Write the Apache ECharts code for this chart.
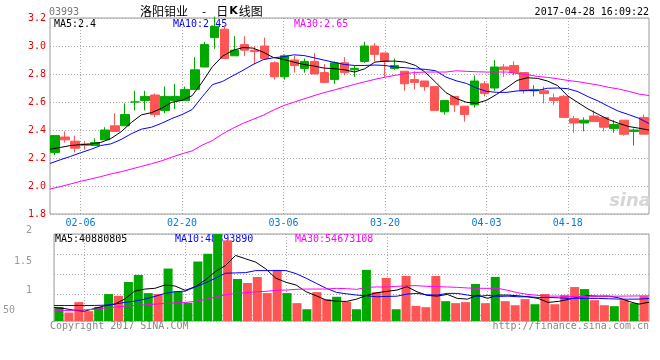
<!DOCTYPE html>
<html>
<head>
<meta charset="utf-8">
<script src="https://cdn.jsdelivr.net/npm/echarts@6/dist/echarts.min.js"></script>
<style>
html,body{margin:0;padding:0;background:#fff;}
#chart{width:660px;height:360px;}
</style>
</head>
<body>
<div id="chart"></div>
<script>
// ---- data ----
const dates = ['02-01','02-02','02-03','02-06','02-07','02-08','02-09','02-10','02-13','02-14','02-15','02-16','02-17','02-20','02-21','02-22','02-23','02-24','02-27','02-28','03-01','03-02','03-03','03-06','03-07','03-08','03-09','03-10','03-13','03-14','03-15','03-16','03-17','03-20','03-21','03-22','03-23','03-24','03-27','03-28','03-29','03-30','03-31','04-03','04-05','04-06','04-07','04-10','04-11','04-12','04-13','04-18','04-19','04-20','04-21','04-24','04-25','04-26','04-27','04-28'];
const dateTicks = ['02-06','02-20','03-06','03-20','04-03','04-18'];

const open  = [2.24,2.35,2.32,2.30,2.29,2.33,2.43,2.43,2.60,2.61,2.65,2.54,2.61,2.61,2.69,2.85,3.06,3.12,2.93,3.01,2.97,3.00,2.88,2.78,2.90,2.84,2.89,2.81,2.76,2.88,2.83,2.89,3.00,2.95,2.84,2.82,2.76,2.75,2.71,2.53,2.64,2.57,2.58,2.73,2.70,2.85,2.86,2.81,2.68,2.68,2.63,2.64,2.48,2.45,2.50,2.49,2.41,2.47,2.39,2.49];
const close = [2.36,2.33,2.27,2.29,2.31,2.40,2.39,2.51,2.60,2.64,2.51,2.64,2.64,2.69,2.83,3.01,3.14,2.91,2.97,2.97,2.96,2.91,2.78,2.93,2.86,2.89,2.80,2.74,2.88,2.81,2.84,3.00,2.94,2.89,2.86,2.73,2.74,2.71,2.54,2.61,2.58,2.51,2.75,2.66,2.85,2.83,2.81,2.68,2.69,2.66,2.61,2.49,2.45,2.47,2.46,2.42,2.44,2.37,2.40,2.37];
const low   = [2.22,2.31,2.24,2.26,2.29,2.33,2.39,2.43,2.54,2.54,2.49,2.52,2.55,2.61,2.69,2.85,2.98,2.91,2.93,2.93,2.87,2.91,2.76,2.76,2.81,2.81,2.80,2.74,2.73,2.79,2.78,2.88,2.89,2.78,2.83,2.68,2.69,2.68,2.54,2.51,2.53,2.46,2.56,2.64,2.68,2.78,2.79,2.66,2.64,2.59,2.58,2.49,2.38,2.39,2.46,2.39,2.38,2.36,2.29,2.37];
const high  = [2.36,2.39,2.36,2.32,2.34,2.42,2.52,2.59,2.68,2.68,2.66,2.71,2.73,2.71,2.92,3.03,3.21,3.15,3.07,3.07,3.00,3.06,2.89,2.94,2.93,2.91,2.95,2.87,2.89,2.92,2.86,3.03,3.02,2.95,2.91,2.82,2.82,2.75,2.71,2.61,2.64,2.57,2.79,2.75,2.90,2.87,2.89,2.81,2.72,2.71,2.66,2.65,2.50,2.49,2.54,2.49,2.47,2.47,2.41,2.51];

const ma5  = [2.263,2.275,2.289,2.295,2.300,2.311,2.339,2.387,2.453,2.508,2.524,2.555,2.598,2.612,2.645,2.743,2.852,2.928,2.968,
              2.989,2.985,2.956,2.918,2.904,2.885,2.868,2.857,2.842,2.838,2.830,2.814,2.837,2.885,2.892,2.892,2.885,2.861,2.810,2.740,
              2.667,2.626,2.598,2.591,2.612,2.655,2.702,2.754,2.773,2.769,2.750,2.717,2.643,2.596,2.550,2.512,2.475,2.448,2.425,2.413,2.399];
const ma10 = [2.161,2.187,2.211,2.237,2.261,2.289,2.301,2.332,2.373,2.406,2.420,2.448,2.482,2.510,2.546,2.638,2.724,2.747,2.787,
              2.826,2.868,2.902,2.916,2.923,2.937,2.932,2.916,2.899,2.883,2.868,2.861,2.861,2.864,2.861,2.849,2.845,2.837,2.833,2.823,
              2.778,2.752,2.733,2.700,2.676,2.669,2.669,2.679,2.683,2.683,2.698,2.700,2.695,2.674,2.638,2.607,2.569,2.534,2.510,2.484,2.446];
const ma30 = [1.979,1.995,2.014,2.033,2.050,2.067,2.086,2.102,2.121,2.140,2.159,2.180,2.206,2.230,2.251,2.292,2.325,2.372,2.412,
              2.447,2.476,2.505,2.542,2.574,2.598,2.622,2.645,2.667,2.686,2.706,2.726,2.744,2.762,2.777,2.790,2.803,2.811,2.814,2.814,
              2.814,2.823,2.819,2.816,2.814,2.814,2.814,2.804,2.795,2.783,2.776,2.766,2.754,2.745,2.733,2.721,2.705,2.693,2.676,2.657,2.646];

// volume, millions of shares
const volume = [30.6,18.4,41.0,21.3,30.6,58.5,54.8,84.8,100.1,60.6,58.5,113.9,64.3,39.4,129.2,146.1,189.0,175.2,91.3,82.6,
                95.7,60.6,111.1,60.6,38.8,25.6,62.8,47.5,52.6,41.6,25.6,111.1,62.8,93.5,25.6,97.9,32.8,30.0,97.9,43.1,
                38.8,41.0,80.4,38.8,95.7,43.1,34.3,47.5,36.5,58.5,36.5,56.3,73.8,69.4,45.3,34.3,32.2,45.3,38.8,54.1];
const vma5  = [29.3,27.1,23.4,21.2,27.1,32.9,36.6,47.5,65.0,69.4,71.0,78.2,76.0,66.6,74.5,89.1,107.3,120.5,142.4,135.1,
               127.9,113.2,92.9,84.1,78.2,63.5,54.8,45.3,43.1,42.5,47.5,55.6,61.3,64.4,67.2,74.5,63.5,55.6,54.1,57.8,
               49.1,47.5,56.3,49.1,56.3,56.3,54.8,52.6,49.1,40.3,42.5,46.9,51.9,54.8,54.1,54.1,50.4,42.5,36.6,40.9];
const vma10 = [33.7,33.7,33.7,33.7,33.7,34.4,36.6,40.3,43.1,47.5,53.4,60.0,63.5,65.0,73.8,82.6,92.9,103.8,104.5,105.1,
               109.5,109.5,109.5,109.5,102.9,92.9,81.9,71.0,62.2,59.1,56.3,54.8,52.6,53.4,53.9,58.5,60.0,56.9,56.3,60.0,
               60.0,56.3,53.4,55.5,53.4,54.0,52.6,52.6,51.2,51.2,50.4,49.1,49.1,49.1,49.1,48.4,47.5,47.5,47.5,48.9];
const vma30 = [21.9,22.8,23.4,24.1,25.6,27.8,30.0,32.2,33.7,35.0,36.6,38.1,39.4,40.3,42.5,46.9,51.9,56.9,60.0,61.3,
               63.5,64.4,66.6,67.2,68.8,69.4,69.4,69.4,71.0,70.2,68.8,73.1,73.9,73.9,75.3,76.7,76.7,75.3,74.6,73.9,
               73.1,71.7,71.0,71.0,71.0,66.6,61.3,57.8,55.6,54.1,54.1,53.4,53.4,52.6,53.5,53.8,54.0,54.2,54.5,54.7];
const volMax = 189;
const volTickLabels = ['2','1.5','1','50'];

// ---- styles ----
const MONO = '"DejaVu Sans Mono", "Liberation Mono", monospace';
const UP = '#00a800', DOWN = '#ff5555';
const GRIDLINE = {color:'#a8a8a8', type:[1,2], width:1};

const candles = dates.map((d,i)=>[open[i], close[i], low[i], high[i]]);
const volBars = volume.map((v,i)=>({value:v, itemStyle:{color: close[i] >= open[i] ? UP : DOWN}}));
const isTick = (i, v) => dateTicks.indexOf(dates[i]) >= 0;

const chart = echarts.init(document.getElementById('chart'), null, {renderer:'canvas'});
const txt = (text, x, y, color, align, font) => ({
  type:'text', z:0, silent:true,
  style:{text, x, y, fill:color, font: font || ('10px ' + MONO), textAlign:align||'left', align:align||'left', textVerticalAlign:'middle', verticalAlign:'middle'}
});

chart.setOption({
  animation:false,
  backgroundColor:'#ffffff',
  grid:[
    {left:50, right:11, top:18, height:196, show:true, borderColor:'#999', borderWidth:1, backgroundColor:'transparent'},
    {left:50, right:11, top:234, height:87, show:true, borderColor:'#999', borderWidth:1, backgroundColor:'transparent'}
  ],
  xAxis:[
    {type:'category', gridIndex:0, data:dates, boundaryGap:true, show:false},
    {type:'category', gridIndex:0, data:dates, boundaryGap:false, position:'bottom',
     axisLine:{show:false}, axisTick:{show:false},
     axisLabel:{show:true, interval:isTick, color:'#0a78d8', fontFamily:MONO, fontSize:10, margin:4},
     splitLine:{show:true, interval:isTick, lineStyle:GRIDLINE}},
    {type:'category', gridIndex:1, data:dates, boundaryGap:true, show:false},
    {type:'category', gridIndex:1, data:dates, boundaryGap:false, position:'bottom',
     axisLine:{show:false}, axisTick:{show:false}, axisLabel:{show:false},
     splitLine:{show:true, interval:isTick, lineStyle:GRIDLINE}}
  ],
  yAxis:[
    {type:'value', gridIndex:0, min:1.8, max:3.2, interval:0.2, position:'left',
     axisLine:{show:false}, axisTick:{show:false},
     axisLabel:{color:'#ee0000', fontFamily:MONO, fontSize:10, margin:4, formatter:v=>v.toFixed(1)},
     splitLine:{show:true, lineStyle:GRIDLINE}},
    {type:'value', gridIndex:1, min:0, max:volMax, show:false, splitLine:{show:false}},
    {type:'value', gridIndex:1, min:0, max:4.3, interval:1, inverse:true, position:'left',
     axisLine:{show:false}, axisTick:{show:false},
     axisLabel:{color:'#999', fontFamily:MONO, fontSize:10, margin:22,
       formatter:v=>{
         const k = Math.round(v);
         if (Math.abs(v-k) > 1e-6 || k > 3) return '';
         return '{t' + k + '|' + volTickLabels[k] + '}';
       },
       rich:{
         t0:{color:'#999', fontFamily:MONO, fontSize:10, padding:[0,0,8,0]},
         t1:{color:'#999', fontFamily:MONO, fontSize:10, padding:[14,0,0,0]},
         t2:{color:'#999', fontFamily:MONO, fontSize:10, padding:[32,0,0,0]},
         t3:{color:'#999', fontFamily:MONO, fontSize:10, padding:[32,17,0,0]}
       }},
     splitLine:{show:true, lineStyle:GRIDLINE}}
  ],
  series:[
    {type:'candlestick', xAxisIndex:0, yAxisIndex:0, data:candles, barWidth:9,
     itemStyle:{color:UP, color0:DOWN, borderColor:UP, borderColor0:DOWN, borderColorDoji:UP, borderWidth:1}},
    {type:'line', xAxisIndex:1, yAxisIndex:0, data:ma5, symbol:'none', lineStyle:{color:'#000', width:1}},
    {type:'line', xAxisIndex:1, yAxisIndex:0, data:ma10, symbol:'none', lineStyle:{color:'#0000ff', width:1}},
    {type:'line', xAxisIndex:1, yAxisIndex:0, data:ma30, symbol:'none', lineStyle:{color:'#ff00ff', width:1}},
    {type:'bar', xAxisIndex:2, yAxisIndex:1, data:volBars, barWidth:9},
    {type:'line', xAxisIndex:3, yAxisIndex:1, data:vma5, symbol:'none', lineStyle:{color:'#000', width:1}},
    {type:'line', xAxisIndex:3, yAxisIndex:1, data:vma10, symbol:'none', lineStyle:{color:'#0000ff', width:1}},
    {type:'line', xAxisIndex:3, yAxisIndex:1, data:vma30, symbol:'none', lineStyle:{color:'#ff00ff', width:1}}
  ],
  graphic:[
    txt('03993', 49, 12, '#777'),
    {type:'text', z:0, silent:true, style:{
      text:'{a|洛阳钼业}{d|-}{a|日}{k|K}{a|线图}', x:140, y:11, textVerticalAlign:'middle', verticalAlign:'middle',
      rich:{
        a:{font:'12px "Noto Sans CJK SC"', fill:'#000', color:'#000'},
        d:{font:'12px "Noto Sans CJK SC"', fill:'#000', color:'#000', padding:[0,10,0,14]},
        k:{font:'bold 11px "DejaVu Sans"', fill:'#000', color:'#000', padding:[0,1,0,1]}
      }}},
    txt('2017-04-28 16:09:22', 649, 12, '#000', 'right'),
    txt('MA5:' + ma5[ma5.length-1].toFixed(1), 54, 24, '#000'),
    txt('MA10:' + ma10[ma10.length-1].toFixed(2), 173, 24, '#0000ff'),
    txt('MA30:' + ma30[ma30.length-1].toFixed(2), 294, 24, '#ff00ff'),
    txt('MA5:40880805', 55, 239, '#000'),
    txt('MA10:48893890', 175, 239, '#0000ff'),
    txt('MA30:54673108', 295, 239, '#ff00ff'),
    txt('Copyright 2017 SINA.COM', 50, 326, '#888'),
    txt('http://finance.sina.com.cn', 649, 326, '#888', 'right'),
    txt('sina', 651, 201, '#d6d6d6', 'right', 'italic bold 18px "DejaVu Sans"')
  ]
});
</script>
</body>
</html>
